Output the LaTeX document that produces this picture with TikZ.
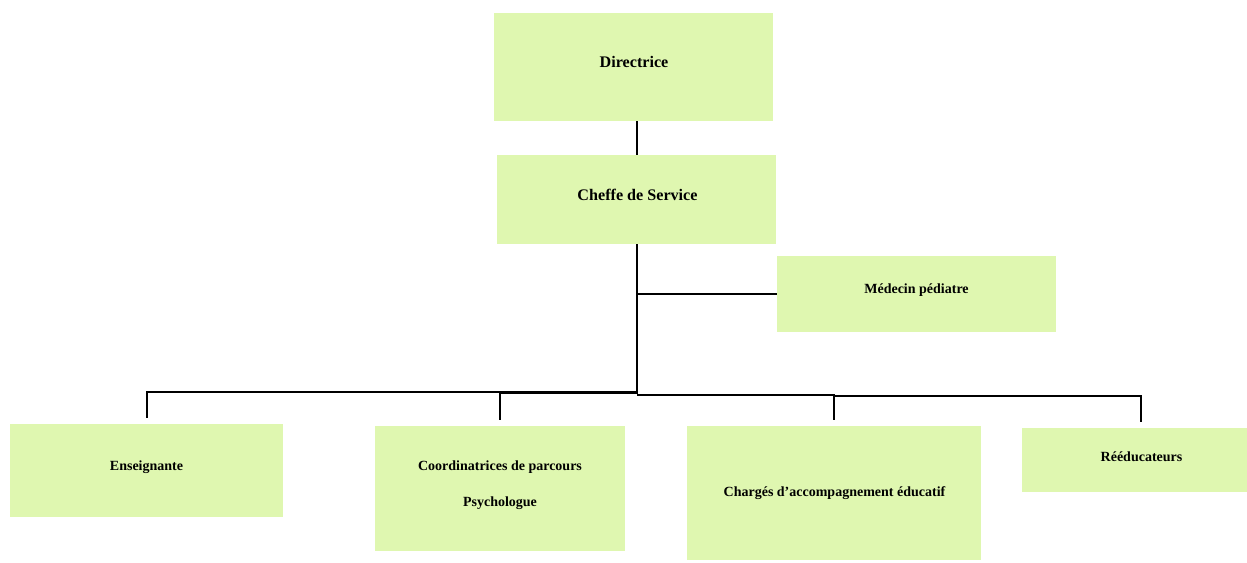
\documentclass[tikz,border=0pt]{standalone}
\usepackage{fontspec}
\setmainfont{Liberation Serif}
\definecolor{boxgreen}{HTML}{DFF7B0}
\begin{document}
\begin{tikzpicture}[x=0.75pt,y=-0.75pt,
  box/.style={fill=boxgreen,draw=none,inner sep=0pt,font=\bfseries\fontsize{10.5}{12}\selectfont,align=center},
  bigbox/.style={box,font=\bfseries\fontsize{12.1}{14}\selectfont},
  link/.style={draw=black,line width=1.3pt},
  trunk/.style={draw=black,line width=1.8pt}]
\useasboundingbox (0,0) rectangle (1247,562);
% boxes
\fill[boxgreen] (494,13) rectangle (773,121);
\node[bigbox] (dir) at (634,62) {Directrice};
\coordinate (dirb) at (637,121);
\fill[boxgreen] (497,155) rectangle (776,244);
\node[bigbox] (chef) at (637.5,195) {Cheffe de Service};
\coordinate (chefT) at (637,155);
\coordinate (chefB) at (637,244);
\fill[boxgreen] (777,256) rectangle (1056,332);
\node[box] (med) at (916.5,290) {Médecin pédiatre};
\coordinate (medL) at (777,294);
\fill[boxgreen] (10,424) rectangle (283,517);
\node[box] (ens) at (146.5,467) {Enseignante};
\fill[boxgreen] (375,426) rectangle (625,551);
\node[box] (coo1) at (500,467) {Coordinatrices de parcours};
\node[box] (coo2) at (500,503) {Psychologue};
\fill[boxgreen] (687,426) rectangle (981,560);
\node[box] (cha) at (834.5,493) {Chargés d’accompagnement éducatif};
\fill[boxgreen] (1022,428) rectangle (1247,492);
\node[box] (ree) at (1141.5,456.5) {Rééducateurs};
% connectors
\coordinate (j) at (637,394);
\coordinate (jm) at (637,294);
\draw[link] (dirb) -- (chefT);
\draw[trunk] (chefB) -- (j);
\draw[link] (jm) -- (medL);
\coordinate (ensT) at (147,418);
\coordinate (cooT) at (500,420);
\coordinate (chaT) at (834,420);
\coordinate (reeT) at (1141,422);
\draw[link] (j) -- (637,392) -| (ensT);
\draw[link] (637,393.5) -| (cooT);
\draw[link] (637,395) -| (chaT);
\draw[link] (chaT |- 0,396) -| (reeT);
\end{tikzpicture}
\end{document}
